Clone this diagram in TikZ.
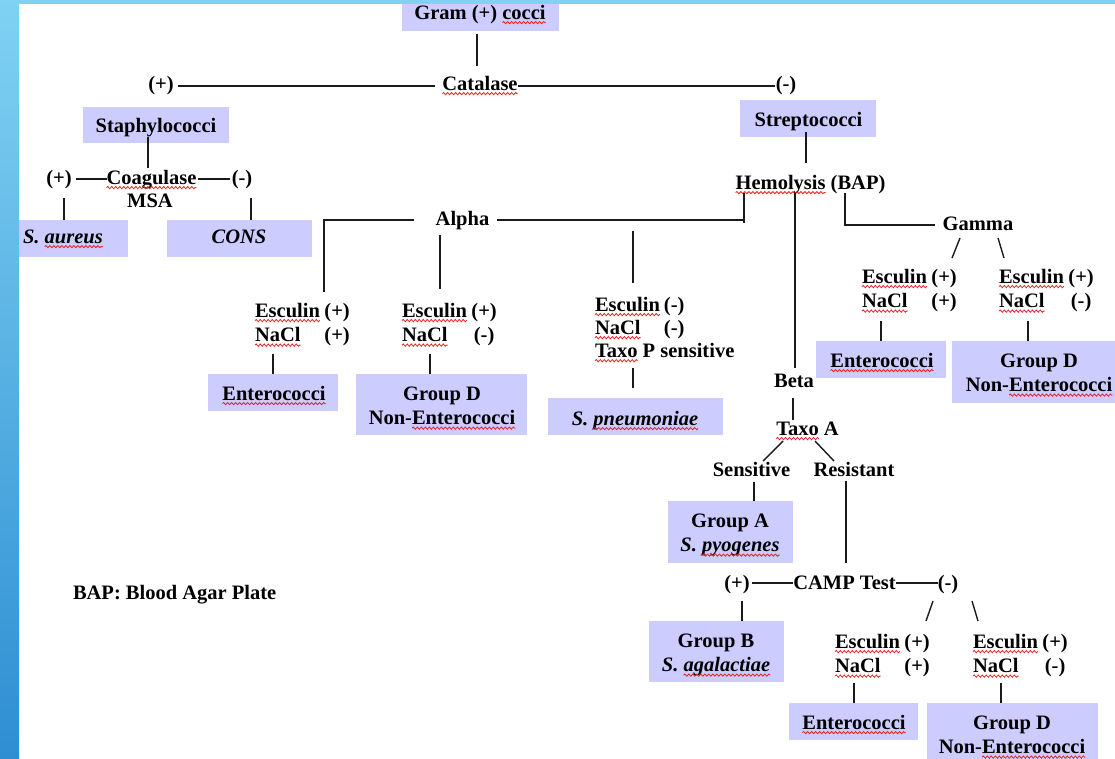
\documentclass[tikz,border=0pt]{standalone}
\usepackage{fontspec}
\setmainfont{Liberation Serif}
\usetikzlibrary{fit,decorations.pathmorphing}
\definecolor{boxc}{HTML}{CCCCFF}
\definecolor{lnc}{HTML}{1A1A1A}
\definecolor{stripA}{HTML}{80D2F3}
\definecolor{stripB}{HTML}{2E8ED2}
\definecolor{sqc}{HTML}{E82020}
\newcommand\sq[1]{\tikz[baseline=(sqw.base)]{\node[inner sep=0pt,outer sep=0pt,anchor=base](sqw){#1};\draw[overlay,sqc,line width=0.8pt,decorate,decoration={snake,amplitude=1.1pt,segment length=4pt}]([yshift=-3.6pt]sqw.base west)--([yshift=-3.6pt]sqw.base east);}}
\newcommand\esc[2]{\begin{tabular}[t]{@{}l@{\hspace{4.5pt}}c@{}}\sq{Esculin}&#1\\\sq{NaCl}&#2\end{tabular}}
\newcommand\two[2]{\begin{tabular}[t]{@{}c@{}}#1\\#2\end{tabular}}
\tikzset{
  txt/.style={inner sep=0pt,outer sep=0pt,anchor=base,text=black,font=\fontsize{20.5}{24.5}\selectfont\bfseries},
  box/.style={fill=boxc,inner sep=0pt,outer sep=0pt,draw=none},
  ln/.style={line width=1.4pt,draw=lnc},
}
\begin{document}
\begin{tikzpicture}[x=1pt,y=-1pt]
\useasboundingbox (0,0) rectangle (1115,758);
\fill[white] (0,0) rectangle (1115,758);
% boxes
\node[box,fit={(402,0)(559,31)}] (bGram) {};
\node[box,fit={(83,107)(229,143)}] (bStaph) {};
\node[box,fit={(19,220)(128,257)}] (bAur) {};
\node[box,fit={(167,220)(312,257)}] (bCons) {};
\node[box,fit={(740,100)(876,137)}] (bStrep) {};
\node[box,fit={(208,374)(338,411)}] (bEnt1) {};
\node[box,fit={(356,374)(527,435)}] (bGD1) {};
\node[box,fit={(548,398)(723,435)}] (bPn) {};
\node[box,fit={(816,341)(946,378)}] (bEnt2) {};
\node[box,fit={(952,341)(1118,403)}] (bGD2) {};
\node[box,fit={(668,501)(793,563)}] (bGA) {};
\node[box,fit={(649,621)(784,682)}] (bGB) {};
\node[box,fit={(789,703)(918,740)}] (bEnt3) {};
\node[box,fit={(927,703)(1098,761)}] (bGD3) {};
% texts
\node[txt] (tGram) at (480,19) {Gram (+) \sq{cocci}};
\node[txt] (tCat) at (480,90) {\sq{Catalase}};
\node[txt] (tCp) at (161,90) {(+)};
\node[txt] (tCm) at (786,90) {(-)};
\node[txt] (tStaph) at (156,132.5) {Staphylococci};
\node[txt] (tCoag) at (151.5,184) {\sq{Coagulase}};
\node[txt] (tMSA) at (150,207) {MSA};
\node[txt] (tGp) at (59,184) {(+)};
\node[txt] (tGm) at (242,184) {(-)};
\node[txt,anchor=base west] (tAur) at (23,243) {\textit{S. \sq{aureus}}};
\node[txt] (tCons) at (239,243) {\textit{CONS}};
\node[txt] (tStrep) at (808.5,126) {Streptococci};
\node[txt] (tHem) at (810.5,189) {\sq{Hemolysis} (BAP)};
\node[txt] (tAlpha) at (462.5,225) {Alpha};
\node[txt] (tGamma) at (978,230) {Gamma};
\node[txt] (tBeta) at (794,387) {Beta};
\node[txt,anchor=base west] (eA1) at (255,317) {\esc{(+)}{(+)}};
\node[txt,anchor=base west] (eA2) at (402,317) {\esc{(+)}{(-)}};
\node[txt,anchor=base west] (eA3) at (595,311) {\def\arraystretch{0.94}\begin{tabular}[t]{@{}l@{\hspace{4pt}}c@{}}\sq{Esculin}&(-)\\\sq{NaCl}&(-)\\\rlap{\sq{Taxo} P sensitive}&\end{tabular}};
\node[txt,anchor=base west] (eG1) at (862,283) {\esc{(+)}{(+)}};
\node[txt,anchor=base west] (eG2) at (999,283) {\esc{(+)}{(-)}};
\node[txt,anchor=base west] (eC1) at (835,648) {\esc{(+)}{(+)}};
\node[txt,anchor=base west] (eC2) at (973,648) {\esc{(+)}{(-)}};
\node[txt] (tEnt1) at (274,400) {\sq{Enterococci}};
\node[txt] (tEnt2) at (882,367) {\sq{Enterococci}};
\node[txt] (tEnt3) at (854,729) {\sq{Enterococci}};
\node[txt] (tGD1) at (442,400) {\two{Group D}{Non-\sq{Enterococci}}};
\node[txt] (tGD2) at (1039,367) {\two{Group D}{Non-\sq{Enterococci}}};
\node[txt] (tGD3) at (1012,729) {\two{Group D}{Non-\sq{Enterococci}}};
\node[txt] (tPn) at (635,425) {\textit{S. \sq{pneumoniae}}};
\node[txt] (tTaxoA) at (807.5,435) {\sq{Taxo} A};
\node[txt] (tSen) at (751.5,476) {Sensitive};
\node[txt] (tRes) at (854,476) {Resistant};
\node[txt] (tGA) at (730,527) {\two{Group A}{\textit{S. \sq{pyogenes}}}};
\node[txt] (tCamp) at (844.5,589) {CAMP Test};
\node[txt] (tKp) at (737,589) {(+)};
\node[txt] (tKm) at (948,589) {(-)};
\node[txt] (tGB) at (716,647) {\two{Group B}{\textit{S. \sq{agalactiae}}}};
\node[txt,anchor=base west] (tBAP) at (73,599) {BAP: Blood Agar Plate};
% connector end points
\coordinate (gA) at (477,34);   \coordinate (gB) at (477,66);
\coordinate (cL1) at (178,86);  \coordinate (cL2) at (435,86);
\coordinate (cR1) at (518,86);  \coordinate (cR2) at (775,86);
\coordinate (sA) at (148,137);  \coordinate (sB) at (148,168);
\coordinate (qL1) at (76,179);  \coordinate (qL2) at (107,179);
\coordinate (qR1) at (198,179); \coordinate (qR2) at (230,179);
\coordinate (qP) at (64,198);   \coordinate (qM) at (251,198);
\coordinate (tA) at (806,132);  \coordinate (tB) at (806,163);
\coordinate (h1) at (744,193);  \coordinate (h1b) at (744,223);
\coordinate (aR) at (497,220);  \coordinate (aRe) at (744,220);
\coordinate (aL) at (414,220);  \coordinate (aLc) at (324,220); \coordinate (aLb) at (324,292);
\coordinate (aM1) at (440,235); \coordinate (aM2) at (440,289);
\coordinate (aF1) at (633,231); \coordinate (aF2) at (633,283);
\coordinate (e1) at (273,354);  \coordinate (e2) at (430,354);
\coordinate (e3a) at (633,368); \coordinate (e3b) at (633,388);
\coordinate (h2) at (795,193);  \coordinate (h2b) at (795,368);
\coordinate (h3) at (845,193);  \coordinate (h3c) at (845,225); \coordinate (h3e) at (935,225);
\coordinate (gs1) at (960,238); \coordinate (gs2) at (952,258);
\coordinate (gs3) at (998,238); \coordinate (gs4) at (1004,258);
\coordinate (eg1) at (881,321); \coordinate (eg2) at (1028,321);
\coordinate (b1) at (793,398);  \coordinate (b2) at (793,420);
\coordinate (ts1) at (783,441); \coordinate (ts2) at (763,461);
\coordinate (ts3) at (815,441); \coordinate (ts4) at (834,461);
\coordinate (sn) at (754,482);
\coordinate (rs1) at (846,481); \coordinate (rs2) at (846,563);
\coordinate (cp1) at (752,583); \coordinate (cp2) at (793,583);
\coordinate (cm1) at (896,583); \coordinate (cm2) at (938,583);
\coordinate (kp) at (742,601);
\coordinate (ks1) at (933,601); \coordinate (ks2) at (926,621);
\coordinate (ks3) at (972,601); \coordinate (ks4) at (978,621);
\coordinate (ec1) at (854,683); \coordinate (ec2) at (1001,683);
% connectors
\draw[ln] (gA) -- (gB);
\draw[ln] (cL1) -- (cL2);
\draw[ln] (cR1) -- (cR2);
\draw[ln] (sA) -- (sB);
\draw[ln] (qL1) -- (qL2);
\draw[ln] (qR1) -- (qR2);
\draw[ln] (qP) -- (qP |- bAur.north);
\draw[ln] (qM) -- (qM |- bCons.north);
\draw[ln] (tA) -- (tB);
\draw[ln] (h1) -- (h1b);
\draw[ln] (aR) -- (aRe);
\draw[ln] (aL) -- (aLc) -- (aLb);
\draw[ln] (aM1) -- (aM2);
\draw[ln] (aF1) -- (aF2);
\draw[ln] (e1) -- (e1 |- bEnt1.north);
\draw[ln] (e2) -- (e2 |- bGD1.north);
\draw[ln] (e3a) -- (e3b);
\draw[ln] (h2) -- (h2b);
\draw[ln] (h3) -- (h3c) -- (h3e);
\draw[ln] (gs1) -- (gs2);
\draw[ln] (gs3) -- (gs4);
\draw[ln] (eg1) -- (eg1 |- bEnt2.north);
\draw[ln] (eg2) -- (eg2 |- bGD2.north);
\draw[ln] (b1) -- (b2);
\draw[ln] (ts1) -- (ts2);
\draw[ln] (ts3) -- (ts4);
\draw[ln] (sn) -- (sn |- bGA.north);
\draw[ln] (rs1) -- (rs2);
\draw[ln] (cp1) -- (cp2);
\draw[ln] (cm1) -- (cm2);
\draw[ln] (kp) -- (kp |- bGB.north);
\draw[ln] (ks1) -- (ks2);
\draw[ln] (ks3) -- (ks4);
\draw[ln] (ec1) -- (ec1 |- bEnt3.north);
\draw[ln] (ec2) -- (ec2 |- bGD3.north);
% frame strips
\shade[top color=stripA,bottom color=stripB] (0,0) rectangle (19,758);
\fill[stripA] (0,0) rectangle (1115,4);
\end{tikzpicture}
\end{document}
